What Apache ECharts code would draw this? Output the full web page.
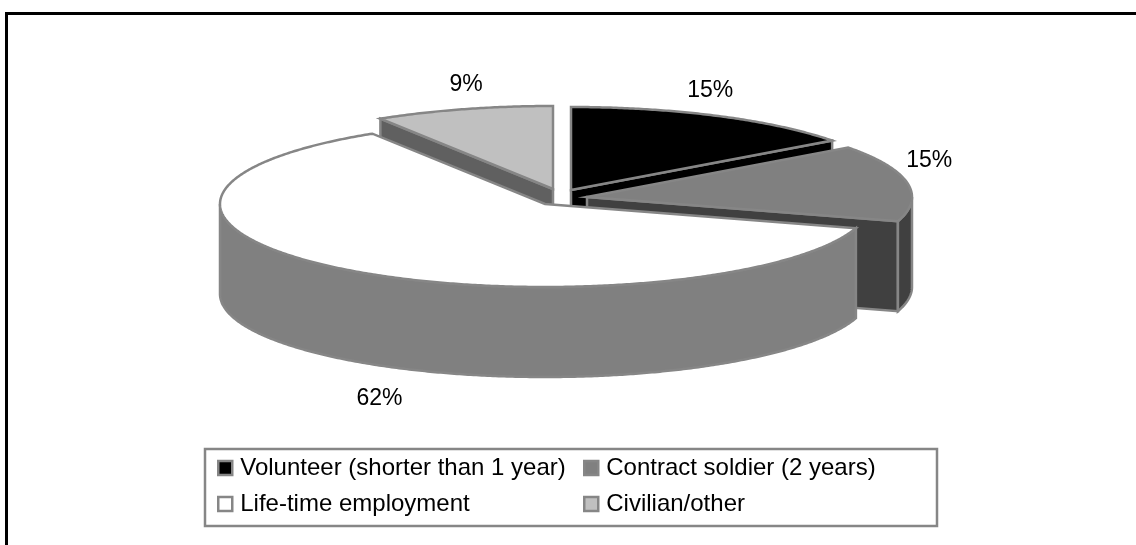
<!DOCTYPE html>
<html><head><meta charset="utf-8">
<style>html,body{margin:0;padding:0;background:#fff}#c{width:1136px;height:545px}</style>
<script src="https://cdn.jsdelivr.net/npm/echarts@6/dist/echarts.min.js"></script>
</head><body><div id="c"></div>
<script>
const categories = ['Volunteer (shorter than 1 year)', 'Contract soldier (2 years)', 'Life-time employment', 'Civilian/other'];
const values = [15, 15, 62, 9];
const topColors = ['#000000', '#808080', '#ffffff', '#c0c0c0'];
const wallColors = ['#000000', '#404040', '#808080', '#606060'];

const total = values.reduce((a, b) => a + b, 0);
const RX = 325, RY = 83, DEPTH = 90, EDGE = '#868686';
const FONT = '"Liberation Sans", Arial, sans-serif';
// exploded position of each slice and placement of its label
const centers = [[571, 190], [587, 197], [545, 204], [553, 189]];
const labelOffsets = [[-7, -25], [22, -22], [32, 129], [3, -25]];
const drawOrder = [3, 0, 1, 2];

function span(i) {
  let s = 0;
  for (let k = 0; k < i; k++) s += values[k];
  return [s / total * 360, (s + values[i]) / total * 360];
}
function pt(c, deg, dy) {
  const r = deg * Math.PI / 180;
  return [c[0] + RX * Math.sin(r), c[1] - RY * Math.cos(r) + (dy || 0)];
}
function arc(c, a, b, dy) {
  const out = [], n = Math.max(2, Math.ceil(Math.abs(b - a) * 2));
  for (let k = 0; k <= n; k++) out.push(pt(c, a + (b - a) * k / n, dy));
  return out;
}
function poly(points, fill, stroke, z2) {
  return { type: 'polygon', z2: z2,
    shape: { points: points },
    style: { fill: fill, stroke: stroke, lineWidth: 2.5, lineJoin: 'miter' } };
}
function renderSlice(i) {
  return function () {
    const c = centers[i], se = span(i), a = se[0], b = se[1], kids = [];
    // radial cut faces that turn towards the viewer
    if (Math.sin(a * Math.PI / 180) < -1e-6) {
      const e = pt(c, a);
      kids.push(poly([c, e, [e[0], e[1] + DEPTH], [c[0], c[1] + DEPTH]], wallColors[i], EDGE, 1));
    }
    if (Math.sin(b * Math.PI / 180) > 1e-6) {
      const e = pt(c, b);
      kids.push(poly([c, e, [e[0], e[1] + DEPTH], [c[0], c[1] + DEPTH]], wallColors[i], EDGE, 1));
    }
    // curved outer wall, front half only
    const wa = Math.max(a, 90), wb = Math.min(b, 270);
    if (wb > wa) {
      kids.push(poly(arc(c, wa, wb).concat(arc(c, wb, wa, DEPTH)), wallColors[i], EDGE, 2));
    }
    // top surface
    kids.push(poly([c].concat(arc(c, a, b)), topColors[i], EDGE, 3));
    // percentage label
    const mid = pt(c, (a + b) / 2);
    kids.push({ type: 'text', z2: 4, style: {
      x: mid[0] + labelOffsets[i][0], y: mid[1] + labelOffsets[i][1],
      text: values[i] + '%', fill: '#000', align: 'center', verticalAlign: 'middle',
      font: '23px ' + FONT } });
    return { type: 'group', children: kids };
  };
}

const legendPlaces = [[217, 456], [583, 456], [217, 492], [583, 492]];
const chart = echarts.init(document.getElementById('c'), null, { renderer: 'canvas' });
chart.setOption({
  animation: false,
  backgroundColor: '#ffffff',
  graphic: [
    { type: 'polyline', z: 0, shape: { points: [[6.5, 560], [6.5, 13.5], [1140, 13.5]] },
      style: { fill: null, stroke: '#000', lineWidth: 3 } },
    { type: 'rect', z: 0, shape: { x: 205, y: 449, width: 732, height: 77 },
      style: { fill: '#fff', stroke: '#868686', lineWidth: 2.5 } }
  ],
  legend: categories.map((name, i) => ({
    left: legendPlaces[i][0], top: legendPlaces[i][1], padding: 0,
    itemWidth: 14, itemHeight: 14, itemGap: 0, selectedMode: false,
    textStyle: { fontFamily: FONT, fontSize: 24, color: '#000', padding: [0, 0, 0, 3] },
    data: [{ name: name, icon: 'rect',
      itemStyle: { color: topColors[i], borderColor: EDGE, borderWidth: 2.5 } }]
  })),
  series: drawOrder.map(i => ({
    type: 'custom', name: categories[i], coordinateSystem: 'none',
    data: [values[i]], renderItem: renderSlice(i), silent: true
  }))
});
</script></body></html>
